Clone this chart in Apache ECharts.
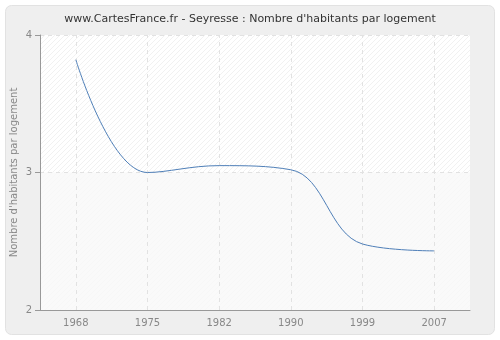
<!DOCTYPE html>
<html>
<head>
<meta charset="utf-8">
<script src="https://cdn.jsdelivr.net/npm/echarts@6/dist/echarts.min.js"></script>
<style>
html,body{margin:0;padding:0;background:#fff;}
#c{width:500px;height:340px;}
</style>
</head>
<body>
<div id="c"></div>
<script>
var categories = ['1968', '1975', '1982', '1990', '1999', '2007'];
var values = [3.82, 3.0, 3.05, 3.02, 2.48, 2.43];
var yTicks = [2, 3, 4];

function hatch(bg, line) {
  var c = document.createElement('canvas');
  c.width = 5; c.height = 5;
  var g = c.getContext('2d');
  g.fillStyle = bg; g.fillRect(0, 0, 5, 5);
  g.strokeStyle = line; g.lineWidth = 1;
  g.beginPath();
  g.moveTo(0, 5); g.lineTo(5, 0);
  g.moveTo(-3, 3); g.lineTo(3, -3);
  g.moveTo(2, 8); g.lineTo(8, 2);
  g.stroke();
  return c;
}

var chart = echarts.init(document.getElementById('c'), null, {renderer: 'canvas'});
chart.setOption({
  animation: false,
  backgroundColor: '#ffffff',
  graphic: [{
    type: 'rect', z: -10,
    shape: {x: 5.5, y: 5.5, width: 489, height: 329, r: 6},
    style: {fill: '#efefef', stroke: '#e2e2e2', lineWidth: 1}
  }],
  title: {
    text: "www.CartesFrance.fr - Seyresse : Nombre d'habitants par logement",
    left: 'center', top: 9,
    textStyle: {fontFamily: 'DejaVu Sans', fontSize: 11, fontWeight: 'normal', color: '#333'}
  },
  grid: {
    left: 40, right: 30, top: 35, bottom: 30,
    outerBoundsMode: 'none', containLabel: false,
    show: true, borderWidth: 0,
    backgroundColor: {image: hatch('#ffffff', '#f1f1f1'), repeat: 'repeat'}
  },
  xAxis: {
    type: 'category',
    data: categories,
    boundaryGap: true,
    axisLine: {lineStyle: {color: '#999'}},
    axisTick: {alignWithLabel: true, length: 5, lineStyle: {color: '#999'}},
    axisLabel: {color: '#888', fontFamily: 'DejaVu Sans', fontSize: 10, margin: 8},
    splitLine: {show: false}
  },
  yAxis: {
    type: 'value',
    min: 2, max: 4, interval: 1,
    name: "Nombre d'habitants par logement",
    nameLocation: 'middle', nameGap: 21, nameMoveOverlap: false,
    nameTextStyle: {color: '#888', fontFamily: 'DejaVu Sans', fontSize: 10},
    axisLine: {show: true, lineStyle: {color: '#999'}},
    axisTick: {show: true, length: 5, lineStyle: {color: '#999'}},
    axisLabel: {color: '#888', fontFamily: 'DejaVu Sans', fontSize: 10, margin: 8,
      formatter: function (v) { return yTicks.indexOf(v) >= 0 ? String(v) : ''; }},
    splitLine: {show: true, lineStyle: {color: '#e2e2e2', type: [4, 4]}},
    splitArea: {show: true, areaStyle: {color: ['rgba(248,248,248,0.75)', 'rgba(255,255,255,0)']}}
  },
  series: [{
    type: 'line',
    data: values,
    smooth: 0.4,
    symbol: 'none',
    lineStyle: {color: '#4f7fb8', width: 1},
    z: 5,
    markLine: {
      silent: true,
      symbol: ['none', 'none'],
      label: {show: false},
      lineStyle: {color: '#e2e2e2', type: [4, 4], width: 1},
      data: categories.map(function (c) { return {xAxis: c}; }),
      z: 1
    }
  }]
});
</script>
</body>
</html>
